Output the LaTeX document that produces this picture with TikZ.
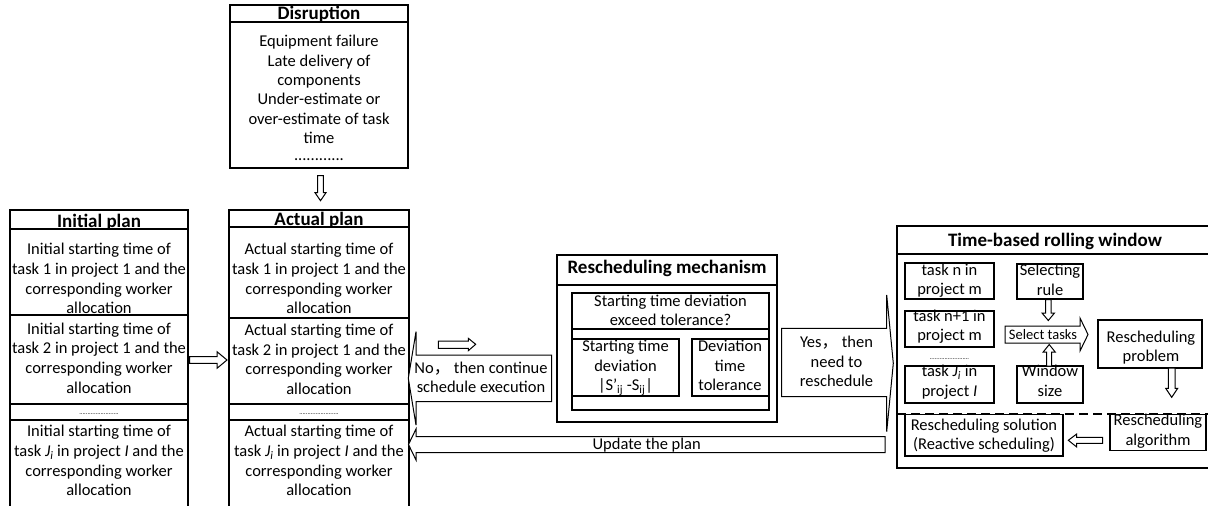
\documentclass[tikz,border=0pt]{standalone}
\usepackage{fontspec}
\setmainfont{Carlito}
\newfontfamily\cjk{Noto Sans CJK SC}
\begin{document}
\begin{tikzpicture}[x=1pt,y=-1pt,line width=1.1pt,line join=miter,
  tx/.style={font=\fontsize{16.5}{19.6}\selectfont, align=center, anchor=north, inner sep=0pt, execute at begin node=\strut, execute at end node=\strut},
  tl/.style={font=\fontsize{16.5}{19.6}\selectfont, anchor=base, inner sep=0pt},
  ttl/.style={font=\fontsize{19}{22}\selectfont\bfseries, anchor=base, inner sep=0pt},
  sdots/.style={font=\fontsize{6.5}{8}\selectfont, anchor=base, inner sep=0pt},
  barrow/.style={draw, fill=white, line width=1pt, line join=miter}]
\useasboundingbox (0,0) rectangle (1208,506);
% ---------------- Disruption
\draw (230,5) rectangle (408,168);
\draw (230,22) -- (408,22);
\node[ttl] (dtitle) at (319,19.3) {Disruption};
\node[tx, font=\fontsize{16.5}{19.3}\selectfont] (dbody) at (319,34.8) {Equipment failure\\Late delivery of\\components\\Under-estimate or\\over-estimate of task\\time};
\node[tl] (ddots) at (319,160.5) {............};
\draw[barrow] (317.7,175.7) -- (323.3,175.7) -- (323.3,192.7) -- (326,192.7) -- (320.5,200.7) -- (315,192.7) -- (317.7,192.7) -- cycle;
% ---------------- Initial plan
\draw (10,507) -- (10,210) -- (188,210) -- (188,507);
\draw (10,229) -- (188,229) (10,315) -- (188,315) (10,404) -- (188,404) (10,420) -- (188,420);
\node[ttl] (ititle) at (99,227) {Initial plan};
\node[tx] (i1) at (99,242.8) {Initial starting time of\\task 1 in project 1 and the\\corresponding worker\\allocation};
\node[tx] (i2) at (99,322.3) {Initial starting time of\\task 2 in project 1 and the\\corresponding worker\\allocation};
\node[sdots] (idots) at (99,414.5) {........................};
\node[tx] (i3) at (99,424.8) {Initial starting time of\\task \textit{J}\textsubscript{\textit{i}} in project \textit{I} and the\\corresponding worker\\allocation};
% arrow initial -> actual
\draw[barrow] (189.5,356.7) -- (217,356.7) -- (217,351.7) -- (227,360) -- (217,368.3) -- (217,363.3) -- (189.5,363.3) -- cycle;
% ---------------- Actual plan
\draw (229,507) -- (229,210) -- (409,210) -- (409,507);
\draw (229,227) -- (409,227) (229,318) -- (409,318) (229,404) -- (409,404) (229,420) -- (409,420);
\node[ttl] (atitle) at (319,225.5) {Actual plan};
\node[tx] (a1) at (319,242.8) {Actual starting time of\\task 1 in project 1 and the\\corresponding worker\\allocation};
\node[tx] (a2) at (319,323.5) {Actual starting time of\\task 2 in project 1 and the\\corresponding worker\\allocation};
\node[sdots] (adots) at (319,414.5) {........................};
\node[tx] (a3) at (319,424.8) {Actual starting time of\\task \textit{J}\textsubscript{\textit{i}} in project \textit{I} and the\\corresponding worker\\allocation};
% ---------------- middle arrows
\draw[barrow] (438.3,341) -- (468.3,341) -- (468.3,338.3) -- (475.7,344.3) -- (468.3,350.7) -- (468.3,348.3) -- (438.3,348.3) -- cycle;
\draw[barrow] (551.7,355) -- (416,355) -- (416,331.7) -- (408.3,378.3) -- (416,425) -- (416,401.7) -- (551.7,401.7) -- cycle;
\node[tx] (no) at (481,361.3) {No{\cjk ，} then continue\\schedule execution};
\draw[barrow] (885,436.5) -- (416,436.5) -- (416,429) -- (408.5,444.5) -- (416,460) -- (416,452.7) -- (885,452.7) -- cycle;
\node[tl] (upd) at (646.7,449.5) {Update the plan};
% ---------------- Rescheduling mechanism
\draw (557,255) rectangle (777,422);
\draw (557,285) -- (777,285);
\node[ttl] (mtitle) at (667,273.5) {Rescheduling mechanism};
\draw (572,293) rectangle (769,410);
\draw (572,329) -- (769,329);
\draw (572,339) rectangle (679,396);
\draw (692,339) rectangle (769,396);
\node[tx] (mq) at (670.5,294) {Starting time deviation\\exceed tolerance?};
\node[tx] (ms) at (625.5,339.6) {Starting time\\deviation\\|S’\textsubscript{ij} -S\textsubscript{ij}|};
\node[tx] (mt) at (730,339.6) {Deviation\\time\\tolerance};
% yes arrow
\draw[barrow] (781.7,328.3) -- (886.7,328.3) -- (886.7,295) -- (893.3,363.3) -- (886.7,431.7) -- (886.7,396.7) -- (781.7,396.7) -- cycle;
\node[tx] (yes) at (836.5,335.6) {Yes{\cjk ，} then\\need to\\reschedule};
% ---------------- Time-based rolling window
\draw (1209,226) -- (897,226) -- (897,468) -- (1209,468);
\draw (897,254) -- (1209,254);
\node[ttl] (wtitle) at (1055,246) {Time-based rolling window};
\draw (905,263) rectangle (994,299);
\node[tx] (tn) at (949.5,263) {task n in\\project m};
\draw (905,311) rectangle (994,347);
\node[tx] (tn1) at (949.5,309) {task n+1 in\\project m};
\node[sdots] (wdots) at (949.5,359) {........................};
\draw (905,366) rectangle (994,403);
\node[tx] (tj) at (949.5,364.6) {task \textit{J}\textsubscript{\textit{i}} in\\project \textit{I}};
\draw (1017,264) rectangle (1083,299);
\node[tx] (sr) at (1050,263.8) {Selecting\\rule};
\draw (1017,366) rectangle (1083,403);
\node[tx] (ws) at (1050,364.6) {Window\\size};
% select tasks arrow
\draw[barrow] (1005,326) -- (1080,326) -- (1080,318) -- (1088,334.5) -- (1080,351) -- (1080,343) -- (1005,343) -- cycle;
\node[tl, font=\fontsize{14.5}{17}\selectfont] (st) at (1043,339.5) {Select tasks};
% rule down arrow
\draw[barrow] (1045.5,299.5) -- (1051,299.5) -- (1051,313) -- (1054.5,313) -- (1048.3,320.5) -- (1042,313) -- (1045.5,313) -- cycle;
% window up arrow
\draw[barrow] (1046.7,366) -- (1051.7,366) -- (1051.7,352) -- (1055.2,352) -- (1049.2,344.5) -- (1043.2,352) -- (1046.7,352) -- cycle;
\draw (1098,320) rectangle (1202,368);
\node[tx] (rp) at (1151,330.3) {Rescheduling\\problem};
\draw[barrow] (1168.3,368) -- (1175,368) -- (1175,388.3) -- (1177.7,388.3) -- (1171.7,397.3) -- (1165.7,388.3) -- (1168.3,388.3) -- cycle;
\draw[dash pattern=on 9pt off 5pt] (897,414) -- (1209,414);
\draw[fill=white] (905,414.5) rectangle (1063,456);
\node[tx] (rs) at (984,418) {Rescheduling solution\\(Reactive scheduling)};
\draw[fill=white] (1110,414.5) rectangle (1206,450.7);
\node[tx] (ra) at (1158,413.6) {Rescheduling\\algorithm};
\draw[barrow] (1102.7,437.3) -- (1076.7,437.3) -- (1076.7,434) -- (1068.3,440.3) -- (1076.7,447) -- (1076.7,443.3) -- (1102.7,443.3) -- cycle;
\end{tikzpicture}
\end{document}
